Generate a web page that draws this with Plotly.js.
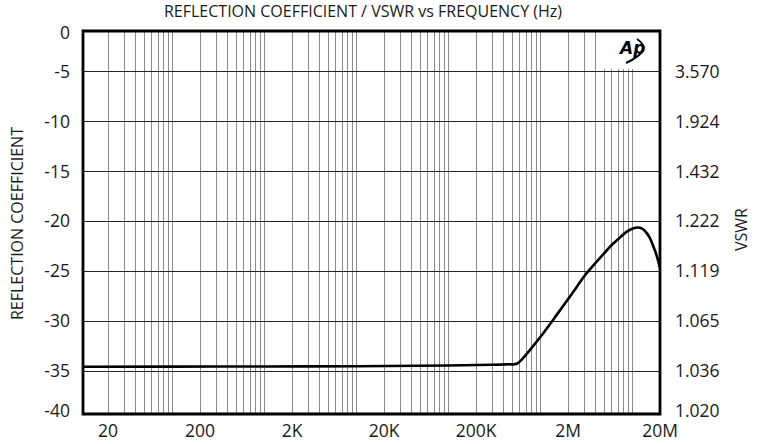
<!DOCTYPE html>
<html><head><meta charset="utf-8">
<script src="https://cdn.plot.ly/plotly-3.0.1.min.js"></script>
<style>html,body{margin:0;padding:0;background:#fff;}#chart{width:761px;height:444px;}</style>
</head><body><div id="chart"></div>
<script>
// Curve
const freqHz = [10, 100, 1000, 10000, 100000, 300000, 450000, 556000, 650000, 770000, 1000000, 1500000, 2000000, 2500000, 3000000, 4000000, 5000000, 6000000, 7000000, 8500000, 10000000, 11500000, 12800000, 14000000, 15500000, 17000000, 18500000, 20000000];
const reflDb = [-34.57, -34.56, -34.55, -34.52, -34.45, -34.38, -34.33, -34.28, -33.7, -32.9, -31.6, -29.4, -27.8, -26.55, -25.5, -24.15, -23.15, -22.35, -21.8, -21.1, -20.75, -20.62, -20.72, -21.05, -21.65, -22.55, -23.5, -24.7];

// Tick labels
const xTickVals = [20, 200, 2000, 20000, 200000, 2000000, 20000000];
const xTickText = ['20', '200', '2K', '20K', '200K', '2M', '20M'];
const yTickVals = [-5, -10, -15, -20, -25, -30, -35];
const yTickText = ['-5', '-10', '-15', '-20', '-25', '-30', '-35'];
const yEdgeVals = [-1.12, -39.0];
const yEdgeText = ['0', '-40'];
const vswrVals = [-5, -10, -15, -20, -25, -30, -35, -39.0];
const vswrText = ['3.570', '1.924', '1.432', '1.222', '1.119', '1.065', '1.036', '1.020'];

// Log grid lines: every 1..9 x 10^n between 20 and 20M
const gridVals = [], gridText = [];
for (let e = 1; e <= 7; e++) {
  for (let m = 1; m <= 9; m++) {
    const v = m * Math.pow(10, e);
    if (v >= 20 && v <= 2e7) {
      gridVals.push(v);
      const i = xTickVals.indexOf(v);
      gridText.push(i >= 0 ? xTickText[i] : '');
    }
  }
}

const FONT = 'Open Sans, Noto Sans, sans-serif';
const L = 83, R = 660, T = 31, B = 414;
const W = R - L, H = B - T;
const px = v => (v - L) / W;
const py = v => (B - v) / H;

const traces = [
  {x: freqHz, y: reflDb, type: 'scatter', mode: 'lines',
   line: {color: '#000', width: 2.6, shape: 'spline', smoothing: 1},
   hoverinfo: 'skip', showlegend: false},
  {x: [], y: [], yaxis: 'y2', type: 'scatter', showlegend: false},
  {x: [], y: [], yaxis: 'y3', type: 'scatter', showlegend: false}
];

const yRange = [-39.31, -0.92];
const tickFont = {family: FONT, size: 17.5, color: '#1a1a1a'};
const titleFont = {family: FONT, size: 16, color: '#1a1a1a'};

const layout = {
  width: 761, height: 444,
  margin: {l: L, r: 761 - R, t: T, b: 444 - B, pad: 0},
  paper_bgcolor: '#fff', plot_bgcolor: '#fff',
  showlegend: false,
  title: {text: 'REFLECTION COEFFICIENT / VSWR vs FREQUENCY (Hz)',
          font: titleFont,
          x: 363 / 761, xanchor: 'center', y: 1 - 11.5 / 444, yanchor: 'middle'},
  xaxis: {type: 'log', range: [1.029, 7.301], tickmode: 'array', tickvals: gridVals, ticktext: gridText,
          showgrid: true, gridcolor: '#8c8c8c', gridwidth: 1, ticks: '', zeroline: false, showline: false,
          tickfont: tickFont, ticklabelstandoff: 4},
  yaxis: {range: yRange, tickmode: 'array', tickvals: yTickVals, ticktext: yTickText,
          showgrid: true, gridcolor: '#222', gridwidth: 1, ticks: '', zeroline: false, showline: false,
          tickfont: tickFont, ticklabelstandoff: 12},
  yaxis3: {range: yRange, overlaying: 'y', side: 'left', anchor: 'x', tickmode: 'array',
           tickvals: yEdgeVals, ticktext: yEdgeText, showgrid: false, ticks: '', zeroline: false,
           showline: false, tickfont: tickFont, ticklabelstandoff: 12},
  yaxis2: {range: yRange, overlaying: 'y', side: 'right', anchor: 'x', tickmode: 'array',
           tickvals: vswrVals, ticktext: vswrText, showgrid: false, ticks: '', zeroline: false,
           showline: false, tickfont: tickFont, ticklabelstandoff: 14},
  shapes: [
    {type: 'rect', xref: 'paper', yref: 'paper', x0: px(603), x1: 1, y0: py(69), y1: 1,
     fillcolor: '#fff', line: {width: 0}, layer: 'above'},
    {type: 'path', xref: 'paper', yref: 'paper',
     path: `M ${px(637)} ${py(39)} Q ${px(654)} ${py(50)} ${px(626)} ${py(63)}`,
     line: {color: '#000', width: 2}, layer: 'above'},
    {type: 'rect', xref: 'paper', yref: 'paper', x0: 0, x1: 1, y0: 0, y1: 1,
     line: {color: '#000', width: 2.8}, fillcolor: 'rgba(0,0,0,0)', layer: 'above'}
  ],
  annotations: [
    {text: '<b><i>Ap</i></b>', xref: 'paper', yref: 'paper', x: px(631), y: py(48.5),
     xanchor: 'center', yanchor: 'middle', showarrow: false,
     font: {family: 'DejaVu Sans, sans-serif', size: 17, color: '#000'}},
    {text: 'REFLECTION COEFFICIENT', xref: 'paper', yref: 'paper', x: px(17), y: py(224),
     xanchor: 'center', yanchor: 'middle', textangle: -90, showarrow: false,
     font: titleFont},
    {text: 'VSWR', xref: 'paper', yref: 'paper', x: px(741), y: py(230),
     xanchor: 'center', yanchor: 'middle', textangle: -90, showarrow: false,
     font: titleFont}
  ]
};

Plotly.newPlot('chart', traces, layout, {displayModeBar: false, staticPlot: true});
</script>
</body></html>
